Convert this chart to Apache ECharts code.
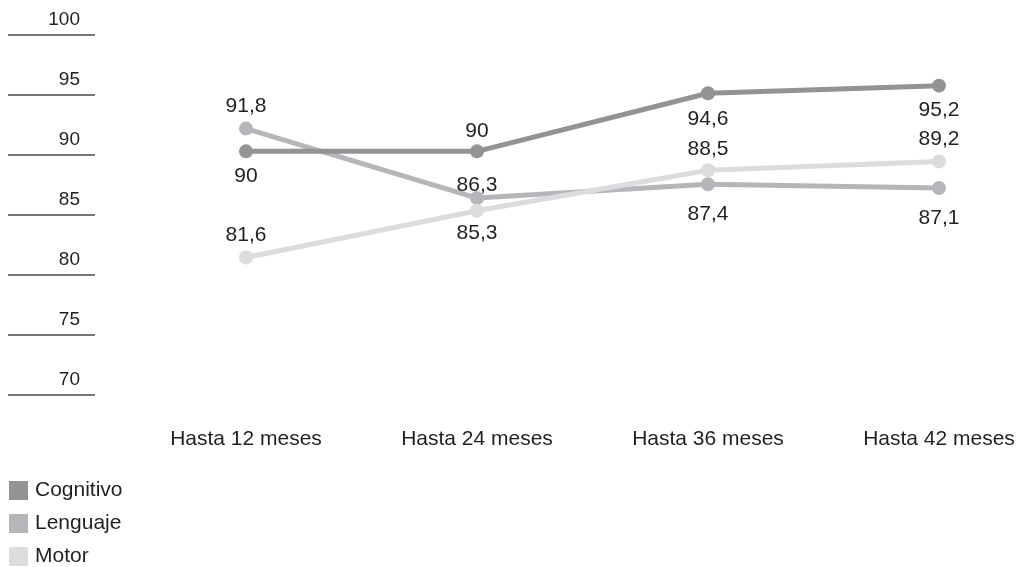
<!DOCTYPE html>
<html>
<head>
<meta charset="utf-8">
<script src="https://cdn.jsdelivr.net/npm/echarts@6/dist/echarts.min.js"></script>
<style>
  html, body { margin: 0; padding: 0; background: #ffffff; }
  #chart { width: 1018px; height: 567px; }
</style>
</head>
<body>
<div id="chart"></div>
<script>
// ---- data ----
const categories = ['Hasta 12 meses', 'Hasta 24 meses', 'Hasta 36 meses', 'Hasta 42 meses'];
const seriesNames = ['Cognitivo', 'Lenguaje', 'Motor'];
const cognitivo = [90, 90, 94.6, 95.2];
const lenguaje = [91.8, 86.3, 87.4, 87.1];
const motor = [81.6, 85.3, 88.5, 89.2];
const yTicks = [70, 75, 80, 85, 90, 95, 100];

// ---- styling ----
const colors = ['#939396', '#b6b6ba', '#dcdcde'];
const textColor = '#231f20';
const fontFamily = 'Liberation Sans, Arial, Helvetica, sans-serif';
// vertical label offsets (px) per point, negative = above
const labelOffsets = {
  Cognitivo: [25, -20, 26, 25],
  Lenguaje: [-22, -13, 30, 30],
  Motor: [-22, 22, -21, -22]
};

function fmt(v) { return String(v).replace('.', ','); }

function makeSeries(name, values, idx, z) {
  return {
    name: name,
    type: 'line',
    xAxisIndex: 1,
    yAxisIndex: 1,
    z: z,
    data: values.map((v, i) => ({
      value: v,
      label: { offset: [0, labelOffsets[name][i]] }
    })),
    symbol: 'circle',
    symbolSize: 14,
    lineStyle: { width: 5, color: colors[idx] },
    itemStyle: { color: colors[idx] },
    label: {
      show: true,
      position: 'inside',
      formatter: p => fmt(p.value),
      color: textColor,
      fontSize: 21,
      fontFamily: fontFamily
    },
    emphasis: { disabled: true },
    animation: false
  };
}

const chart = echarts.init(document.getElementById('chart'), null, { renderer: 'canvas' });
chart.setOption({
  backgroundColor: '#ffffff',
  animation: false,
  textStyle: { fontFamily: fontFamily },
  grid: [
    { left: 8, width: 87, top: 34.7, height: 360 },
    { left: 246, right: 79, top: 25, height: 379 }
  ],
  xAxis: [
    { gridIndex: 0, type: 'value', show: false },
    {
      gridIndex: 1,
      type: 'category',
      data: categories,
      boundaryGap: false,
      axisLine: { show: false },
      axisTick: { show: false },
      axisLabel: { color: textColor, fontSize: 21, margin: 25, fontFamily: fontFamily }
    }
  ],
  yAxis: [
    {
      gridIndex: 0,
      type: 'value',
      position: 'right',
      min: yTicks[0],
      max: yTicks[yTicks.length - 1],
      interval: 5,
      axisLine: { show: false },
      axisTick: { show: false },
      splitLine: { show: true, lineStyle: { color: '#4a4a4a', width: 1.5 } },
      axisLabel: {
        inside: true,
        margin: 15,
        verticalAlign: 'bottom',
        padding: [0, 0, 5, 0],
        color: textColor,
        fontSize: 19,
        fontFamily: fontFamily
      }
    },
    {
      gridIndex: 1,
      type: 'value',
      min: yTicks[0],
      max: yTicks[yTicks.length - 1],
      show: false
    }
  ],
  legend: {
    orient: 'vertical',
    left: 9,
    top: 480,
    padding: 0,
    height: 120,
    icon: 'rect',
    itemWidth: 19,
    itemHeight: 19,
    itemGap: 12,
    data: seriesNames,
    textStyle: { color: textColor, fontSize: 21, fontFamily: fontFamily, padding: [0, 0, 0, 2] },
    selectedMode: false
  },
  series: [
    makeSeries('Cognitivo', cognitivo, 0, 4),
    makeSeries('Lenguaje', lenguaje, 1, 2),
    makeSeries('Motor', motor, 2, 3)
  ]
});
</script>
</body>
</html>
